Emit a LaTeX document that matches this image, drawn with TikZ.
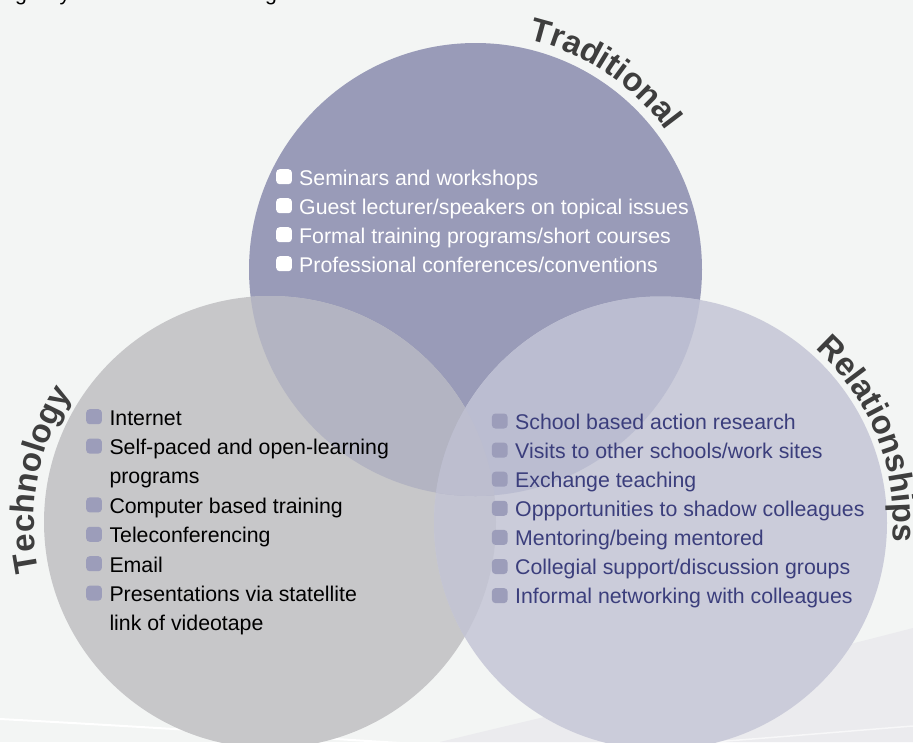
\documentclass[tikz,border=0pt]{standalone}
\usepackage{fontspec}
\setmainfont{Liberation Sans}
\usetikzlibrary{decorations.text}

\definecolor{bg}{HTML}{F3F5F4}
\definecolor{swoosh}{HTML}{EBEBEE}
\definecolor{topc}{HTML}{999BB8}
\definecolor{leftc}{HTML}{C7C7C9}
\definecolor{rightc}{HTML}{CBCCDA}
\definecolor{tlc}{HTML}{B3B4C2}
\definecolor{trc}{HTML}{BBBDD1}
\definecolor{lrc}{HTML}{C3C4D2}
\definecolor{tlrc}{HTML}{BDBECF}
\definecolor{labelgray}{HTML}{3E3E3E}
\definecolor{reltext}{HTML}{3B3E7C}
\definecolor{bulletc}{HTML}{9C9DBA}

\newcommand\itemfont{\fontsize{21.3}{29}\selectfont}
\newcommand\headfont{\fontsize{33}{38}\selectfont\bfseries}

\begin{document}
\begin{tikzpicture}[x=1pt,y=-1pt,
  itemtext/.style={anchor=base west,inner sep=0pt,font=\itemfont},
  bulletbox/.style={anchor=north west,inner sep=0pt,minimum width=15.7pt,
    minimum height=15pt,rounded corners=3.5pt,draw=none},
  headpath/.style 2 args={decorate,decoration={text along path,
    text={|\headfont\addfontfeature{LetterSpace=#2}\color{labelgray}|#1},text align=left}}]

\useasboundingbox (0,0) rectangle (913,742);
\clip (0,0) rectangle (913,742);

% page background with its soft bottom swoosh and highlight lines
\fill[bg] (0,0) rectangle (913,742);
\fill[swoosh] (440,742) .. controls (600,703) and (760,668) .. (913,628) -- (913,742) -- cycle;
\draw[white,line width=2pt] (0,719) .. controls (150,727) and (300,737) .. (450,746);
\draw[white!60!swoosh,line width=1.5pt] (700,743) .. controls (780,737) and (850,731) .. (913,726);

% descenders of the caption line above the diagram
\node[itemtext,text=black] (c1) at (15,0.5) {g};
\node[itemtext,text=black] (c2) at (59.5,0.5) {y};
\node[itemtext,text=black] (c3) at (265,0.5) {g};

% circle centres
\coordinate (T) at (475.5,269.5);
\coordinate (L) at (270,522);
\coordinate (R) at (660.5,523);

% the three circles
\fill[topc] (T) circle[radius=226.5];
\fill[leftc] (L) circle[radius=226];
\fill[rightc] (R) circle[radius=226.5];

% overlaps
\begin{scope}
  \clip (L) circle[radius=226];
  \fill[lrc] (R) circle[radius=226.5];
\end{scope}
\begin{scope}
  \clip (T) circle[radius=226.5];
  \fill[tlc] (L) circle[radius=226];
  \fill[trc] (R) circle[radius=226.5];
  \clip (L) circle[radius=226];
  \fill[tlrc] (R) circle[radius=226.5];
\end{scope}

% curved circle titles
\path[headpath={Traditional}{0}] (T) ++(-77:236) arc[start angle=-77,end angle=-15,radius=236];
\path[headpath={Technology}{3}] (L) ++(-192:236) arc[start angle=-192,end angle=-110,radius=236];
\path[headpath={Relationships}{7}] (R) ++(-48.5:233) arc[start angle=-48.5,end angle=30,radius=233];

% Traditional list
\foreach \y/\txt [count=\i] in {185/Seminars and workshops,
    214/Guest lecturer\slash speakers on topical issues,
    243/Formal training programs\slash short courses,
    272/Professional conferences\slash conventions}{
  \node[bulletbox,fill=white] (tb\i) at (276,\y-16) {};
  \node[itemtext,text=white] (tt\i) at (299,\y) {\txt};
}

% Technology list
\foreach \y/\txt [count=\i] in {425/Internet,
    454.4/Self-paced and open-learning,
    513.2/Computer based training,
    542.6/Teleconferencing,
    572/Email,
    601.4/Presentations via statellite}{
  \node[bulletbox,fill=bulletc] (lb\i) at (86,\y-16) {};
  \node[itemtext,text=black] (lt\i) at (109.3,\y) {\txt};
}
\node[itemtext,text=black] (lt2b) at (109.3,483.8) {programs};
\node[itemtext,text=black] (lt6b) at (109.3,630.8) {link of videotape};

% Relationships list
\foreach \y/\txt [count=\i] in {429.3/School based action research,
    458.4/Visits to other schools\slash work sites,
    487.5/Exchange teaching,
    516.6/Oppportunities to shadow colleagues,
    545.7/Mentoring\slash being mentored,
    574.8/Collegial support\slash discussion groups,
    603.9/Informal networking with colleagues}{
  \node[bulletbox,fill=bulletc] (rb\i) at (491.7,\y-16) {};
  \node[itemtext,text=reltext] (rt\i) at (515,\y) {\txt};
}

\end{tikzpicture}
\end{document}
